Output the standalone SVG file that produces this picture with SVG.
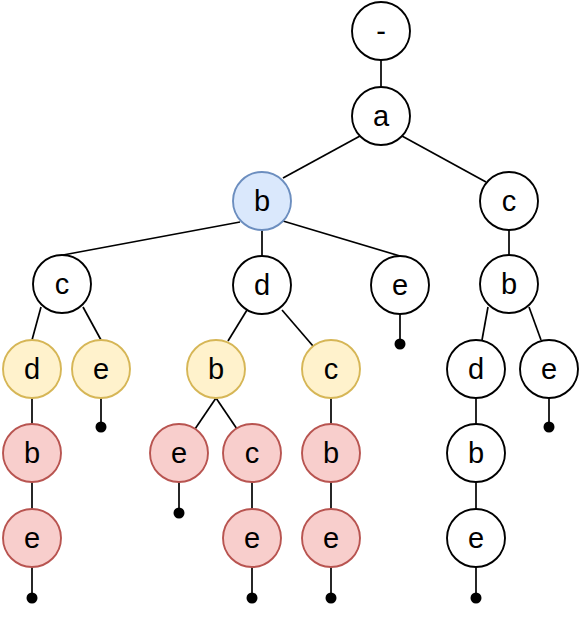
<svg xmlns="http://www.w3.org/2000/svg" width="581" height="621" viewBox="0 0 581 621">
<style>
.e{stroke:#000;stroke-width:1.7;fill:none}
.n circle{stroke-width:1.9}
.w circle{fill:#fff;stroke:#000}
.bl circle{fill:#dae8fc;stroke:#6c8ebf}
.y circle{fill:#fff2cc;stroke:#d6b656}
.r circle{fill:#f8cecc;stroke:#b85450}
text{font-family:"Liberation Sans",Arial,sans-serif;font-size:29px;text-anchor:middle;dominant-baseline:central;fill:#000}
.dot{fill:#000}
</style>
<rect width="581" height="621" fill="#fff"/>
<g id="connectors">
<line class="e" x1="381" y1="60" x2="381" y2="87"/>
<line class="e" x1="360" y1="136" x2="283" y2="178"/>
<line class="e" x1="402" y1="136" x2="486" y2="182"/>
<line class="e" x1="240" y1="222" x2="63" y2="255"/>
<line class="e" x1="262" y1="230" x2="262" y2="256"/>
<line class="e" x1="283" y1="221" x2="400" y2="256"/>
<line class="e" x1="509" y1="230" x2="509" y2="255"/>
<line class="e" x1="41" y1="307" x2="32" y2="340"/>
<line class="e" x1="83" y1="307" x2="101" y2="340"/>
<line class="e" x1="247" y1="310" x2="228" y2="341"/>
<line class="e" x1="282" y1="310" x2="313" y2="346"/>
<line class="e" x1="400" y1="314" x2="400" y2="344"/>
<line class="e" x1="488" y1="307" x2="482" y2="340"/>
<line class="e" x1="529" y1="307" x2="541" y2="340"/>
<line class="e" x1="32" y1="398" x2="32" y2="424"/>
<line class="e" x1="101" y1="398" x2="101" y2="427"/>
<line class="e" x1="216" y1="398" x2="195" y2="429"/>
<line class="e" x1="216" y1="398" x2="237" y2="429"/>
<line class="e" x1="331" y1="398" x2="331" y2="424"/>
<line class="e" x1="476" y1="398" x2="476" y2="424"/>
<line class="e" x1="549" y1="398" x2="549" y2="427"/>
<line class="e" x1="32" y1="482" x2="32" y2="509"/>
<line class="e" x1="179" y1="482" x2="179" y2="513"/>
<line class="e" x1="252" y1="482" x2="252" y2="509"/>
<line class="e" x1="331" y1="482" x2="331" y2="509"/>
<line class="e" x1="476" y1="482" x2="476" y2="509"/>
<line class="e" x1="32" y1="567" x2="32" y2="598"/>
<line class="e" x1="252" y1="567" x2="252" y2="598"/>
<line class="e" x1="331" y1="567" x2="331" y2="598"/>
<line class="e" x1="476" y1="567" x2="476" y2="598"/>
<circle class="dot" cx="400" cy="344" r="5.5"/>
<circle class="dot" cx="101" cy="427" r="5.5"/>
<circle class="dot" cx="549" cy="427" r="5.5"/>
<circle class="dot" cx="179" cy="513" r="5.5"/>
<circle class="dot" cx="32" cy="598" r="5.5"/>
<circle class="dot" cx="252" cy="598" r="5.5"/>
<circle class="dot" cx="331" cy="598" r="5.5"/>
<circle class="dot" cx="476" cy="598" r="5.5"/>
</g>
<g id="n-root" class="n w"><circle cx="381" cy="31" r="29"/><text x="381" y="31">-</text></g>
<g id="n-a" class="n w"><circle cx="381" cy="116" r="29"/><text x="381" y="116">a</text></g>
<g id="n-b" class="n bl"><circle cx="262" cy="201" r="29"/><text x="262" y="201">b</text></g>
<g id="n-c-r" class="n w"><circle cx="509" cy="201" r="29"/><text x="509" y="201">c</text></g>
<g id="n-c-l" class="n w"><circle cx="62" cy="284" r="29"/><text x="62" y="284">c</text></g>
<g id="n-d" class="n w"><circle cx="262" cy="285" r="29"/><text x="262" y="285">d</text></g>
<g id="n-e" class="n w"><circle cx="400" cy="285" r="29"/><text x="400" y="285">e</text></g>
<g id="n-b-r" class="n w"><circle cx="509" cy="284" r="29"/><text x="509" y="284">b</text></g>
<g id="n-d-y" class="n y"><circle cx="32" cy="369" r="29"/><text x="32" y="369">d</text></g>
<g id="n-e-y" class="n y"><circle cx="101" cy="369" r="29"/><text x="101" y="369">e</text></g>
<g id="n-b-y" class="n y"><circle cx="216" cy="369" r="29"/><text x="216" y="369">b</text></g>
<g id="n-c-y" class="n y"><circle cx="331" cy="369" r="29"/><text x="331" y="369">c</text></g>
<g id="n-d-w" class="n w"><circle cx="476" cy="369" r="29"/><text x="476" y="369">d</text></g>
<g id="n-e-w" class="n w"><circle cx="549" cy="369" r="29"/><text x="549" y="369">e</text></g>
<g id="n-b-r1" class="n r"><circle cx="32" cy="453" r="29"/><text x="32" y="453">b</text></g>
<g id="n-e-r1" class="n r"><circle cx="179" cy="453" r="29"/><text x="179" y="453">e</text></g>
<g id="n-c-r1" class="n r"><circle cx="252" cy="453" r="29"/><text x="252" y="453">c</text></g>
<g id="n-b-r2" class="n r"><circle cx="331" cy="453" r="29"/><text x="331" y="453">b</text></g>
<g id="n-b-w" class="n w"><circle cx="476" cy="453" r="29"/><text x="476" y="453">b</text></g>
<g id="n-e-r2" class="n r"><circle cx="32" cy="538" r="29"/><text x="32" y="538">e</text></g>
<g id="n-e-r3" class="n r"><circle cx="252" cy="538" r="29"/><text x="252" y="538">e</text></g>
<g id="n-e-r4" class="n r"><circle cx="331" cy="538" r="29"/><text x="331" y="538">e</text></g>
<g id="n-e-w2" class="n w"><circle cx="476" cy="538" r="29"/><text x="476" y="538">e</text></g>
</svg>
